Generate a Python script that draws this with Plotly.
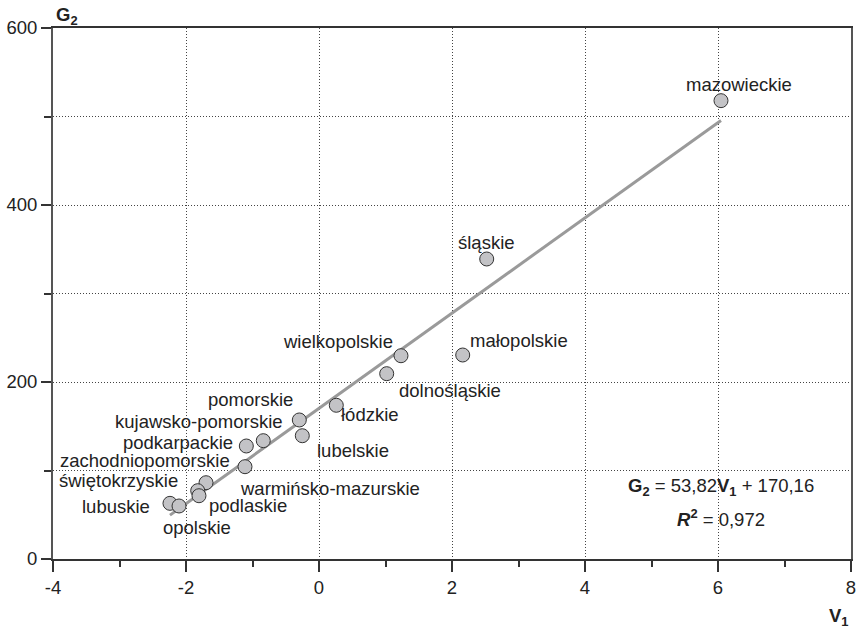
import plotly.graph_objects as go

# Data
regions = ["mazowieckie", "śląskie", "małopolskie", "wielkopolskie", "dolnośląskie",
           "łódzkie", "lubelskie", "pomorskie", "kujawsko-pomorskie", "podkarpackie",
           "zachodniopomorskie", "warmińsko-mazurskie", "świętokrzyskie", "podlaskie",
           "lubuskie", "opolskie"]
v1 = [6.045, 2.522, 2.161, 1.233, 1.018, 0.260, -0.251, -0.296, -0.838, -1.093,
      -1.113, -1.699, -1.824, -1.805, -2.241, -2.105]
g2 = [517.9, 339.0, 230.5, 229.7, 209.4, 173.7, 139.3, 157.1, 133.7, 127.7,
      104.3, 86.2, 77.2, 71.5, 62.9, 59.9]
slope = 53.82
intercept = 170.16
r2 = "0,972"
x_ticks = [-4, -2, 0, 2, 4, 6, 8]
x_tick_labels = ["-4", "-2", "0", "2", "4", "6", "8"]
y_ticks = [0, 200, 400, 600]
y_tick_labels = ["0", "200", "400", "600"]

# label offsets (pixels) - layout only
label_shift = {
    "mazowieckie": (18, 16), "śląskie": (0, 16), "małopolskie": (56, 15),
    "wielkopolskie": (-63, 14), "dolnośląskie": (63, -17), "łódzkie": (34, -9),
    "lubelskie": (51, -15), "pomorskie": (-49, 20), "kujawsko-pomorskie": (-64, 19),
    "podkarpackie": (-68, 3), "zachodniopomorskie": (-100, 6),
    "warmińsko-mazurskie": (124, -6), "świętokrzyskie": (-79, 10),
    "podlaskie": (49, -10), "lubuskie": (-54, -3), "opolskie": (18, -22),
}

FONT = "Liberation Sans, Arial, sans-serif"
TXT = "#222222"
FS = 18.5
GRID = "#444444"
DOT = "1px,2px"

xmin, xmax = min(v1), max(v1)
fig = go.Figure()
fig.add_trace(go.Scatter(
    x=[xmin, xmax], y=[slope * xmin + intercept, slope * xmax + intercept],
    mode="lines", line=dict(color="#9a9a9a", width=3), hoverinfo="skip", showlegend=False))
fig.add_trace(go.Scatter(
    x=v1, y=g2, mode="markers", text=regions, showlegend=False,
    marker=dict(size=14, color="#c3c3c6", line=dict(color="#333333", width=1))))

ann = []
for name, xv, yv in zip(regions, v1, g2):
    dx, dy = label_shift[name]
    ann.append(dict(x=xv, y=yv, xref="x", yref="y", text=name, showarrow=False,
                    xshift=dx, yshift=dy, font=dict(size=FS, color=TXT, family=FONT)))

ann.append(dict(xref="paper", yref="paper", x=0.8365, y=0.1356,
                xanchor="center", yanchor="middle",
                text=f"<b>G</b><sub><b>2</b></sub> = {str(slope).replace('.', ',')}<b>V</b><sub><b>1</b></sub> + {str(intercept).replace('.', ',')}",
                showarrow=False, font=dict(size=FS, color=TXT, family=FONT)))
ann.append(dict(xref="paper", yref="paper", x=0.8365, y=0.0778,
                xanchor="center", yanchor="middle",
                text=f"<b><i>R</i></b><sup><b>2</b></sup> = {r2}",
                showarrow=False, font=dict(size=FS, color=TXT, family=FONT)))
ann.append(dict(xref="paper", yref="paper", x=0.0, y=1.0, xanchor="left", yanchor="bottom",
                text="<b>G</b><sub><b>2</b></sub>", showarrow=False, xshift=1, yshift=-2,
                font=dict(size=FS, color=TXT, family=FONT)))
ann.append(dict(xref="paper", yref="paper", x=1.0, y=0.0, xanchor="right", yanchor="top",
                text="<b>V</b><sub><b>1</b></sub>", showarrow=False, yshift=-44,
                font=dict(size=FS, color=TXT, family=FONT)))

fig.update_layout(
    width=858, height=633,
    margin=dict(l=53, r=7, t=28, b=74),
    paper_bgcolor="white", plot_bgcolor="white",
    font=dict(family=FONT, size=FS, color=TXT),
    annotations=ann,
    hovermode=False,
    xaxis=dict(range=[-4, 8], tickvals=x_ticks, ticktext=x_tick_labels, automargin=False,
               showgrid=True, gridcolor=GRID,
               griddash=DOT, gridwidth=1, zeroline=False, showline=True,
               linecolor="#333333", linewidth=2, mirror=True, ticks="outside",
               ticklen=11, tickcolor="#333333", tickwidth=1.5,
               minor=dict(dtick=1, tick0=0, ticks="outside", ticklen=6, tickcolor="#333333",
                          showgrid=False),
               tickfont=dict(size=FS, color=TXT)),
    yaxis=dict(range=[0, 600], tickvals=y_ticks, ticktext=y_tick_labels, automargin=False,
               showgrid=True, gridcolor=GRID,
               griddash=DOT, gridwidth=1, zeroline=False, showline=True,
               linecolor="#555555", linewidth=2, mirror=True, ticks="outside",
               ticklen=10, tickcolor="#333333", tickwidth=1.5,
               minor=dict(dtick=100, tick0=0, ticks="outside", ticklen=7, tickcolor="#333333",
                          showgrid=True, gridcolor=GRID, griddash=DOT, gridwidth=1),
               tickfont=dict(size=FS, color=TXT)),
)

fig.write_html("out.html", config={"displayModeBar": False},
               post_script="document.body.style.margin='0';document.body.style.overflow='hidden';")
